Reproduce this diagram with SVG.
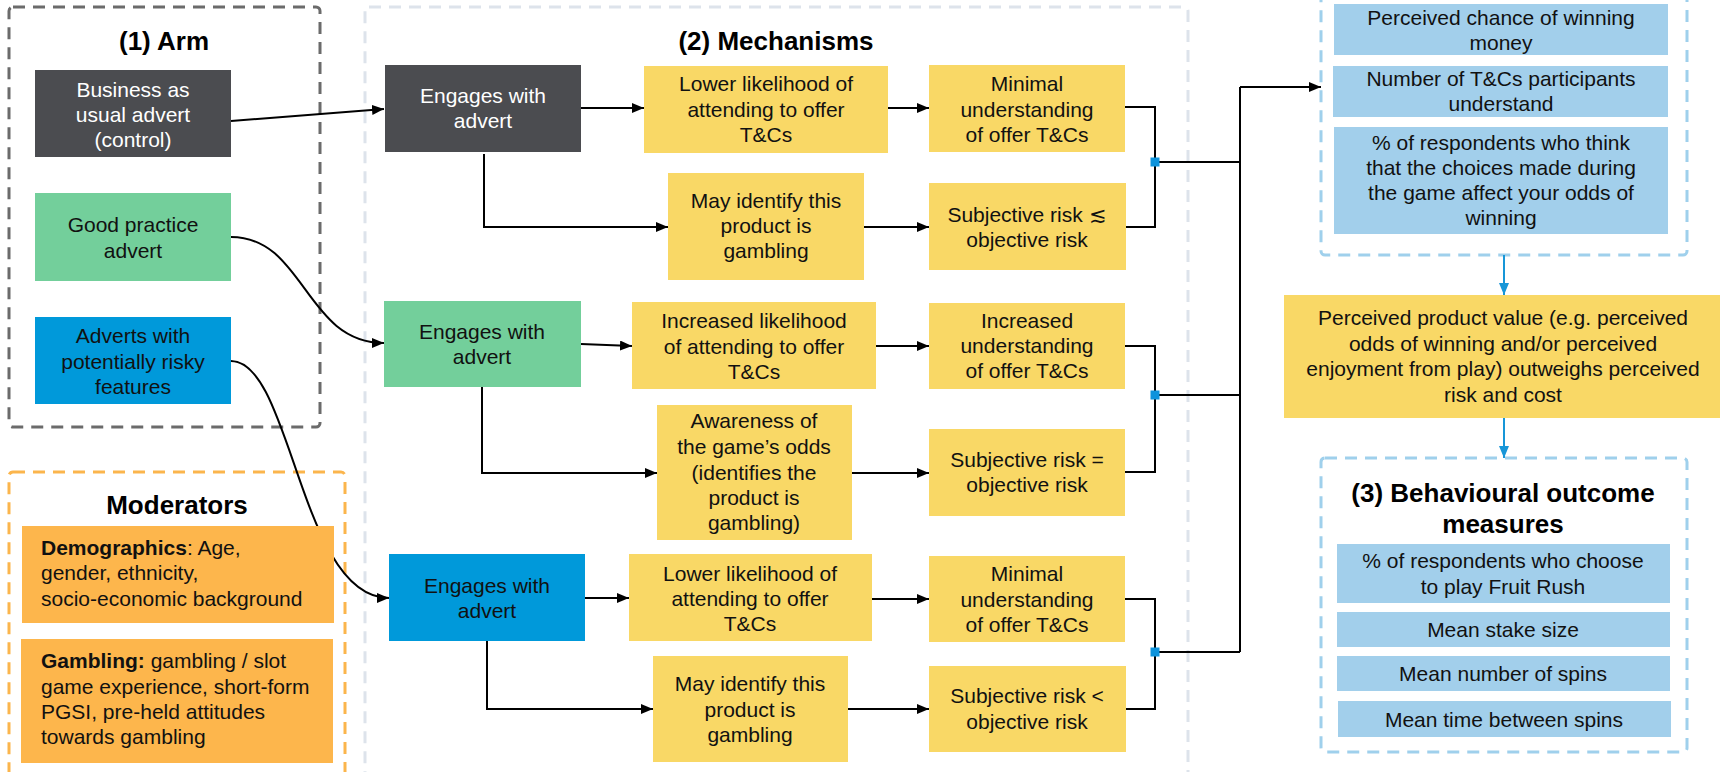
<svg xmlns="http://www.w3.org/2000/svg" width="1720" height="772" viewBox="0 0 1720 772">
<style>
text{font-family:"Liberation Sans",Arial,sans-serif;font-size:21px;fill:#111;text-anchor:middle}
.t{font-weight:bold;font-size:26px;fill:#000}
.w{fill:#fff}
.l{text-anchor:start}
.b{font-weight:bold}
.dark{fill:#4b4c50}
.green{fill:#73cf9b}
.blue{fill:#0099da}
.yel{fill:#f9d866}
.org{fill:#fdb64c}
.lb{fill:#a2cfeb}
.frame{fill:none;stroke-width:3;stroke-dasharray:12 8}
.c{fill:none;stroke:#000;stroke-width:2}
.cb{fill:none;stroke:#1796d8;stroke-width:2}
.sq{fill:#0c93dc}
</style>
<defs>
<marker id="ah" viewBox="0 0 12 10" refX="12" refY="5" markerWidth="12" markerHeight="10" markerUnits="userSpaceOnUse" orient="auto"><path d="M0,0 L12,5 L0,10 z" fill="#000"/></marker>
<marker id="ahb" viewBox="0 0 12 10" refX="12" refY="5" markerWidth="12" markerHeight="10" markerUnits="userSpaceOnUse" orient="auto"><path d="M0,0 L12,5 L0,10 z" fill="#1796d8"/></marker>
</defs>
<rect width="1720" height="772" fill="#fff"/>

<!-- frames -->
<g id="frames">
<rect class="frame" x="9" y="7" width="311" height="420" rx="4" stroke="#6b6b6b"/>
<rect class="frame" x="9" y="472" width="336" height="330" rx="4" stroke="#fbb54c"/>
<rect class="frame" x="365" y="7" width="823" height="800" rx="4" stroke="#dde3eb" stroke-dasharray="13 10"/>
<rect class="frame" x="1321" y="-30" width="366" height="285" rx="4" stroke="#9fd0ec"/>
<rect class="frame" x="1321" y="458" width="366" height="294" rx="4" stroke="#9fd0ec"/>
</g>

<g id="titles">
<text class="t" x="164" y="50">(1) Arm</text>
<text class="t" x="776" y="50">(2) Mechanisms</text>
<text class="t" x="177" y="514">Moderators</text>
<text class="t" x="1503" y="502">(3) Behavioural outcome</text>
<text class="t" x="1503" y="533">measures</text>
</g>

<!-- connectors -->
<g id="connectors">
<path class="c" d="M231,121 L384,109" marker-end="url(#ah)"/>
<path class="c" d="M231,237 C305,237 305,343 384,343" marker-end="url(#ah)"/>
<path class="c" d="M231,361 C292,361 300,598 389,598" marker-end="url(#ah)"/>

<path class="c" d="M581,108 L644,108" marker-end="url(#ah)"/>
<path class="c" d="M484,154 L484,227 L668,227" marker-end="url(#ah)"/>
<path class="c" d="M888,108 L929,108" marker-end="url(#ah)"/>
<path class="c" d="M864,227 L929,227" marker-end="url(#ah)"/>

<path class="c" d="M581,344 L632,346" marker-end="url(#ah)"/>
<path class="c" d="M482,387 L482,473 L657,473" marker-end="url(#ah)"/>
<path class="c" d="M876,346 L929,346" marker-end="url(#ah)"/>
<path class="c" d="M852,473 L929,473" marker-end="url(#ah)"/>

<path class="c" d="M585,598 L629,598" marker-end="url(#ah)"/>
<path class="c" d="M487,641 L487,709 L653,709" marker-end="url(#ah)"/>
<path class="c" d="M872,599 L929,599" marker-end="url(#ah)"/>
<path class="c" d="M848,709 L929,709" marker-end="url(#ah)"/>

<path class="c" d="M1125,107 L1155,107 L1155,227 L1126,227"/>
<path class="c" d="M1125,346 L1155,346 L1155,472 L1125,472"/>
<path class="c" d="M1125,599 L1155,599 L1155,709 L1126,709"/>
<path class="c" d="M1155,162 L1240,162 M1155,395 L1240,395 M1155,652 L1240,652 M1240,652 L1240,87"/>
<path class="c" d="M1240,87 L1321,87" marker-end="url(#ah)"/>
<rect class="sq" x="1150.5" y="157.5" width="9" height="9"/>
<rect class="sq" x="1150.5" y="390.5" width="9" height="9"/>
<rect class="sq" x="1150.5" y="647.5" width="9" height="9"/>

<path class="cb" d="M1504,255 L1504,295" marker-end="url(#ahb)"/>
<path class="cb" d="M1504,418 L1504,458" marker-end="url(#ahb)"/>
</g>

<!-- Arm -->
<g id="arm-bau">
<rect class="dark" x="35" y="70" width="196" height="87"/>
<text class="w" x="133" y="97">Business as</text>
<text class="w" x="133" y="122">usual advert</text>
<text class="w" x="133" y="147">(control)</text>
</g>
<g id="arm-good">
<rect class="green" x="35" y="193" width="196" height="88"/>
<text x="133" y="232">Good practice</text>
<text x="133" y="258">advert</text>
</g>
<g id="arm-risky">
<rect class="blue" x="35" y="317" width="196" height="87"/>
<text x="133" y="343">Adverts with</text>
<text x="133" y="369">potentially risky</text>
<text x="133" y="394">features</text>
</g>

<!-- Moderators -->
<g id="mod-demo">
<rect class="org" x="22" y="526" width="312" height="97"/>
<text class="l" x="41" y="555"><tspan class="b">Demographics</tspan>: Age,</text>
<text class="l" x="41" y="580">gender, ethnicity,</text>
<text class="l" x="41" y="606">socio-economic background</text>
</g>
<g id="mod-gamb">
<rect class="org" x="21" y="639" width="312" height="124"/>
<text class="l" x="41" y="668"><tspan class="b">Gambling:</tspan> gambling / slot</text>
<text class="l" x="41" y="694">game experience, short-form</text>
<text class="l" x="41" y="719">PGSI, pre-held attitudes</text>
<text class="l" x="41" y="744">towards gambling</text>
</g>

<!-- Row 1 -->
<g id="eng1">
<rect class="dark" x="385" y="65" width="196" height="87"/>
<text class="w" x="483" y="103">Engages with</text>
<text class="w" x="483" y="128">advert</text>
</g>
<g id="lower1">
<rect class="yel" x="644" y="66" width="244" height="87"/>
<text x="766" y="91">Lower likelihood of</text>
<text x="766" y="117">attending to offer</text>
<text x="766" y="142">T&amp;Cs</text>
</g>
<g id="may1">
<rect class="yel" x="668" y="173" width="196" height="107"/>
<text x="766" y="208">May identify this</text>
<text x="766" y="233">product is</text>
<text x="766" y="258">gambling</text>
</g>
<g id="min1">
<rect class="yel" x="929" y="65" width="196" height="87"/>
<text x="1027" y="91">Minimal</text>
<text x="1027" y="117">understanding</text>
<text x="1027" y="142">of offer T&amp;Cs</text>
</g>
<g id="subj1">
<rect class="yel" x="929" y="183" width="197" height="87"/>
<text x="1027" y="222">Subjective risk ≲</text>
<text x="1027" y="247">objective risk</text>
</g>

<!-- Row 2 -->
<g id="eng2">
<rect class="green" x="384" y="301" width="197" height="86"/>
<text x="482" y="339">Engages with</text>
<text x="482" y="364">advert</text>
</g>
<g id="incr1">
<rect class="yel" x="632" y="302" width="244" height="87"/>
<text x="754" y="328">Increased likelihood</text>
<text x="754" y="354">of attending to offer</text>
<text x="754" y="379">T&amp;Cs</text>
</g>
<g id="aware">
<rect class="yel" x="657" y="405" width="195" height="135"/>
<text x="754" y="428">Awareness of</text>
<text x="754" y="454">the game’s odds</text>
<text x="754" y="480">(identifies the</text>
<text x="754" y="505">product is</text>
<text x="754" y="530">gambling)</text>
</g>
<g id="incr2">
<rect class="yel" x="929" y="303" width="196" height="86"/>
<text x="1027" y="328">Increased</text>
<text x="1027" y="353">understanding</text>
<text x="1027" y="378">of offer T&amp;Cs</text>
</g>
<g id="subj2">
<rect class="yel" x="929" y="429" width="196" height="87"/>
<text x="1027" y="467">Subjective risk =</text>
<text x="1027" y="492">objective risk</text>
</g>

<!-- Row 3 -->
<g id="eng3">
<rect class="blue" x="389" y="554" width="196" height="87"/>
<text x="487" y="593">Engages with</text>
<text x="487" y="618">advert</text>
</g>
<g id="lower3">
<rect class="yel" x="629" y="554" width="243" height="87"/>
<text x="750" y="581">Lower likelihood of</text>
<text x="750" y="606">attending to offer</text>
<text x="750" y="631">T&amp;Cs</text>
</g>
<g id="may3">
<rect class="yel" x="653" y="656" width="195" height="106"/>
<text x="750" y="691">May identify this</text>
<text x="750" y="717">product is</text>
<text x="750" y="742">gambling</text>
</g>
<g id="min3">
<rect class="yel" x="929" y="556" width="196" height="86"/>
<text x="1027" y="581">Minimal</text>
<text x="1027" y="607">understanding</text>
<text x="1027" y="632">of offer T&amp;Cs</text>
</g>
<g id="subj3">
<rect class="yel" x="929" y="666" width="197" height="86"/>
<text x="1027" y="703">Subjective risk &lt;</text>
<text x="1027" y="729">objective risk</text>
</g>

<!-- Outcomes -->
<g id="out-chance">
<rect class="lb" x="1334" y="4" width="334" height="51"/>
<text x="1501" y="25">Perceived chance of winning</text>
<text x="1501" y="50">money</text>
</g>
<g id="out-tcs">
<rect class="lb" x="1333" y="66" width="335" height="51"/>
<text x="1501" y="86">Number of T&amp;Cs participants</text>
<text x="1501" y="111">understand</text>
</g>
<g id="out-choices">
<rect class="lb" x="1334" y="127" width="334" height="107"/>
<text x="1501" y="150">% of respondents who think</text>
<text x="1501" y="175">that the choices made during</text>
<text x="1501" y="200">the game affect your odds of</text>
<text x="1501" y="225">winning</text>
</g>
<g id="value">
<rect class="yel" x="1284" y="295" width="440" height="123"/>
<text x="1503" y="325">Perceived product value (e.g. perceived</text>
<text x="1503" y="351">odds of winning and/or perceived</text>
<text x="1503" y="376">enjoyment from play) outweighs perceived</text>
<text x="1503" y="402">risk and cost</text>
</g>
<g id="beh-play">
<rect class="lb" x="1337" y="544" width="333" height="59"/>
<text x="1503" y="568">% of respondents who choose</text>
<text x="1503" y="594">to play Fruit Rush</text>
</g>
<g id="beh-stake">
<rect class="lb" x="1337" y="612" width="333" height="35"/>
<text x="1503" y="637">Mean stake size</text>
</g>
<g id="beh-spins">
<rect class="lb" x="1337" y="656" width="333" height="35"/>
<text x="1503" y="681">Mean number of spins</text>
</g>
<g id="beh-time">
<rect class="lb" x="1338" y="701" width="333" height="36"/>
<text x="1504" y="727">Mean time between spins</text>
</g>
</svg>
